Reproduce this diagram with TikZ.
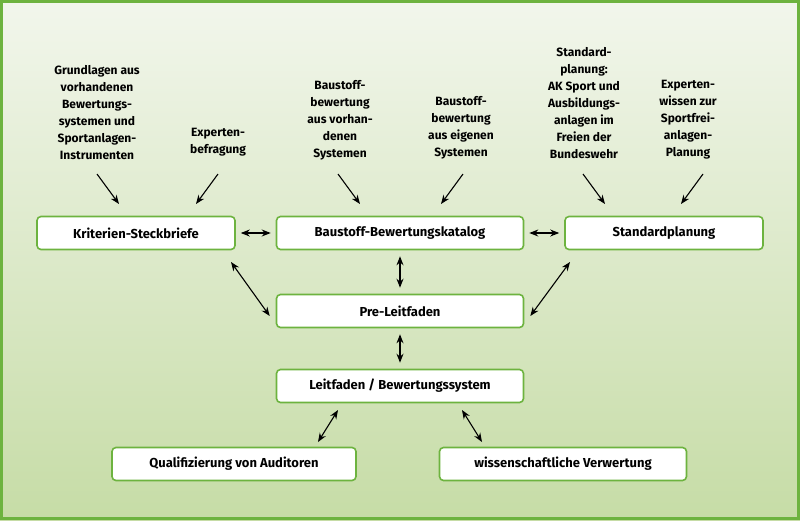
\documentclass[tikz,border=0pt]{standalone}
\usepackage{fontspec}
\setmainfont{Fira Sans}
\usetikzlibrary{arrows.meta}
\definecolor{framegreen}{HTML}{6DB33F}
\definecolor{bgtop}{HTML}{F2F6EC}
\definecolor{bgbot}{HTML}{C6DCA6}
\tikzset{
  box/.style={draw=framegreen, line width=1.6pt, rounded corners=4pt, fill=white,
    minimum height=33pt, inner sep=0pt},
  src/.style={align=center, font=\fontsize{12}{17}\selectfont\bfseries},
  feed/.style={-{Stealth[length=9pt,width=7pt]}, line width=1.1pt},
  link/.style={{Stealth[length=9pt,width=7pt]}-{Stealth[length=9pt,width=7pt]}, line width=1.1pt}
}
\begin{document}
\begin{tikzpicture}[x=1pt,y=-1pt,font=\fontsize{13}{15}\selectfont\bfseries]
  \useasboundingbox (0,0) rectangle (800,520);
  %% background
  \shade[top color=bgtop, bottom color=bgbot] (0,0) rectangle (800,520);
  \draw[framegreen, line width=3pt] (1.5,1.5) rectangle (798.5,518.5);

  %% boxes
  \node[box, minimum width=198pt] (krit) at (136,233) {Kriterien-Steckbriefe};
  \node[box, minimum width=247pt] (kat) at (400,233) {Baustoff-Bewertungskatalog};
  \node[box, minimum width=198pt] (std) at (664,233) {Standardplanung};
  \node[box, minimum width=247pt] (pre) at (400,311) {Pre-Leitfaden};
  \node[box, minimum width=247pt] (leit) at (400,386) {Leitfaden / Bewertungssystem};
  \node[box, minimum width=244pt] (aud) at (234,464) {Qualifizierung von Auditoren};
  \node[box, minimum width=247pt] (verw) at (563,464) {wissenschaftliche Verwertung};

  %% sources
  \node[src] (grund) at (97,113) {Grundlagen aus\\vorhandenen\\Bewertungs-\\systemen und\\Sportanlagen-\\Instrumenten};
  \node[src] (befr) at (218,142) {Experten-\\befragung};
  \node[src] (vorh) at (340,120) {Baustoff-\\bewertung\\aus vorhan-\\denen\\Systemen};
  \node[src] (eig) at (461,128) {Baustoff-\\bewertung\\aus eigenen\\Systemen};
  \node[src] (plan) at (584,103) {Standard-\\planung:\\AK Sport und\\Ausbildungs-\\anlagen im\\Freien der\\Bundeswehr};
  \node[src] (wiss) at (688,120) {Experten-\\wissen zur\\Sportfrei-\\anlagen-\\Planung};

  %% arrow ends
  \coordinate (a1) at (97,174);  \coordinate (b1) at (119,204);
  \coordinate (a2) at (218,174); \coordinate (b2) at (196,204);
  \coordinate (a3) at (338,174); \coordinate (b3) at (360,204);
  \coordinate (a4) at (463,174); \coordinate (b4) at (441,204);
  \coordinate (a5) at (583,174); \coordinate (b5) at (605,204);
  \coordinate (a6) at (703,174); \coordinate (b6) at (681,204);
  \foreach \i in {1,...,6} \draw[feed] (a\i) -- (b\i);

  %% links
  \draw[link] ([xshift=5pt]krit.east) -- ([xshift=-5pt]kat.west);
  \draw[link] ([xshift=5pt]kat.east) -- ([xshift=-5pt]std.west);
  \draw[link] ([yshift=-6pt]kat.south) -- ([yshift=6pt]pre.north);
  \draw[link] (231,262) -- ([xshift=-6pt,yshift=-5pt]pre.west);
  \draw[link] (570,262) -- ([xshift=6pt,yshift=-5pt]pre.east);
  \draw[link] ([yshift=-6pt]pre.south) -- ([yshift=6pt]leit.north);
  \draw[link] (338,410) -- (318,442);
  \draw[link] (462,410) -- (482,442);
\end{tikzpicture}
\end{document}
